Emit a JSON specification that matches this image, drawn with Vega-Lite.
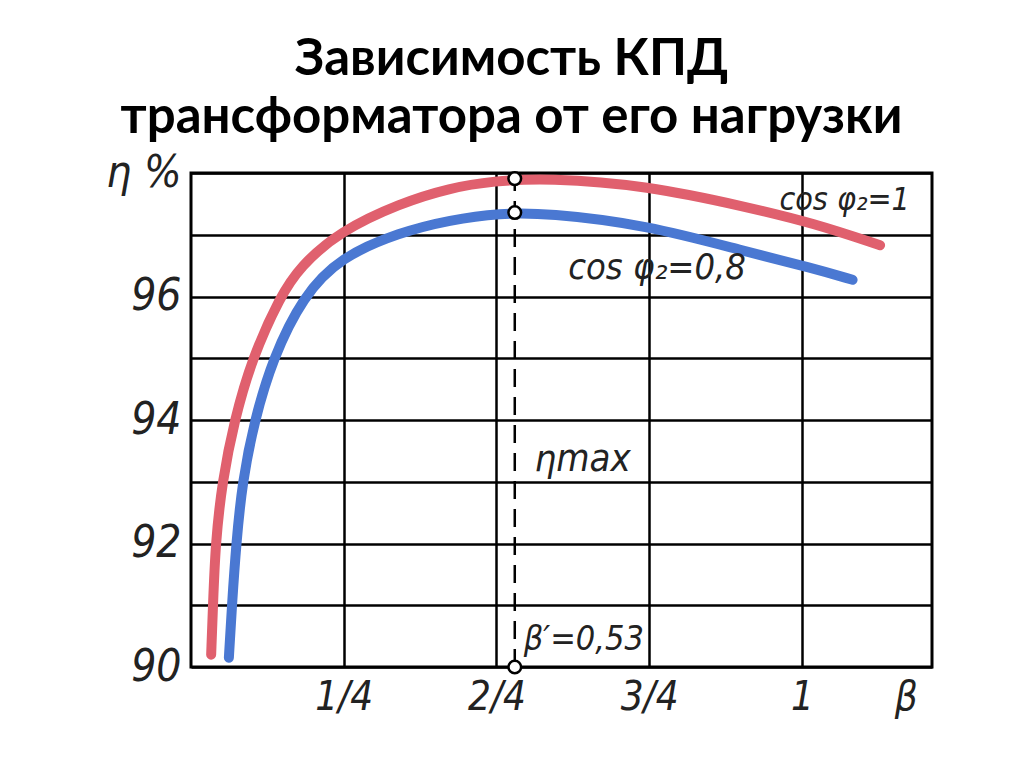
{
  "$schema": "https://vega.github.io/schema/vega-lite/v6.json",
  "width": 741,
  "height": 494,
  "autosize": {"type": "none"},
  "padding": {"left": 191, "top": 173, "right": 92, "bottom": 100},
  "background": "white",
  "title": {
    "text": ["Зависимость КПД", "трансформатора от его нагрузки"],
    "font": "Lato",
    "fontSize": 51,
    "fontWeight": "bold",
    "color": "black",
    "lineHeight": 58,
    "anchor": "middle",
    "dx": -50,
    "offset": 7
  },
  "config": {
    "view": {"stroke": "black", "strokeWidth": 3},
    "axis": {
      "labelFont": "DejaVu Sans Condensed",
      "labelFontStyle": "italic",
      "labelColor": "#222",
      "domain": false,
      "ticks": false,
      "gridColor": "black",
      "gridWidth": 2.5,
      "gridOpacity": 1,
      "title": null
    }
  },
  "datasets": {
    "curves": [
      {"series": "cos1", "beta": 0.033, "eta": 90.2},
      {"series": "cos1", "beta": 0.036, "eta": 91.0},
      {"series": "cos1", "beta": 0.040, "eta": 92.0},
      {"series": "cos1", "beta": 0.051, "eta": 93.0},
      {"series": "cos1", "beta": 0.071, "eta": 94.0},
      {"series": "cos1", "beta": 0.100, "eta": 95.0},
      {"series": "cos1", "beta": 0.146, "eta": 96.0},
      {"series": "cos1", "beta": 0.178, "eta": 96.48},
      {"series": "cos1", "beta": 0.244, "eta": 97.06},
      {"series": "cos1", "beta": 0.342, "eta": 97.51},
      {"series": "cos1", "beta": 0.424, "eta": 97.76},
      {"series": "cos1", "beta": 0.495, "eta": 97.87},
      {"series": "cos1", "beta": 0.583, "eta": 97.92},
      {"series": "cos1", "beta": 0.746, "eta": 97.8},
      {"series": "cos1", "beta": 0.910, "eta": 97.45},
      {"series": "cos1", "beta": 1.018, "eta": 97.19},
      {"series": "cos1", "beta": 1.128, "eta": 96.83},
      {"series": "cos08", "beta": 0.062, "eta": 90.15},
      {"series": "cos08", "beta": 0.067, "eta": 91.0},
      {"series": "cos08", "beta": 0.074, "eta": 92.0},
      {"series": "cos08", "beta": 0.084, "eta": 93.0},
      {"series": "cos08", "beta": 0.104, "eta": 94.0},
      {"series": "cos08", "beta": 0.134, "eta": 95.0},
      {"series": "cos08", "beta": 0.183, "eta": 96.0},
      {"series": "cos08", "beta": 0.245, "eta": 96.64},
      {"series": "cos08", "beta": 0.342, "eta": 97.04},
      {"series": "cos08", "beta": 0.424, "eta": 97.24},
      {"series": "cos08", "beta": 0.506, "eta": 97.35},
      {"series": "cos08", "beta": 0.583, "eta": 97.35},
      {"series": "cos08", "beta": 0.746, "eta": 97.16},
      {"series": "cos08", "beta": 0.910, "eta": 96.72},
      {"series": "cos08", "beta": 1.018, "eta": 96.46},
      {"series": "cos08", "beta": 1.083, "eta": 96.27}
    ],
    "marker": [{"beta": 0.53}],
    "points": [
      {"beta": 0.53, "eta": 90.0},
      {"beta": 0.53, "eta": 97.36},
      {"beta": 0.53, "eta": 97.91}
    ],
    "notes": [
      {"label": "cos φ₂=1", "beta": 1.07, "eta": 97.56, "size": 32},
      {"label": "cos φ₂=0,8", "beta": 0.763, "eta": 96.46, "size": 36},
      {"label": "ηmax", "beta": 0.641, "eta": 93.35, "size": 38},
      {"label": "β′=0,53", "beta": 0.643, "eta": 90.44, "size": 34}
    ]
  },
  "layer": [
    {
      "data": {"name": "marker"},
      "mark": {"type": "rule", "strokeDash": [18, 10], "strokeWidth": 2.5, "color": "black"},
      "encoding": {
        "x": {
          "field": "beta",
          "type": "quantitative",
          "scale": {"domain": [0, 1.213], "nice": false, "zero": false},
          "axis": {
            "values": [0.25, 0.5, 0.75, 1, 1.17],
            "labelExpr": "datum.value == 0.25 ? '1/4' : datum.value == 0.5 ? '2/4' : datum.value == 0.75 ? '3/4' : datum.value == 1 ? '1' : 'β'",
            "labelFontSize": 40,
            "labelPadding": 10,
            "gridOpacity": {"condition": {"test": "datum.value > 1.1", "value": 0}, "value": 1}
          }
        }
      }
    },
    {
      "data": {"name": "curves"},
      "mark": {"type": "line", "strokeWidth": 10, "strokeCap": "round", "interpolate": "basis"},
      "encoding": {
        "x": {"field": "beta", "type": "quantitative"},
        "y": {
          "field": "eta",
          "type": "quantitative",
          "scale": {"domain": [90, 98], "nice": false, "zero": false},
          "axis": {
            "values": [90, 91, 92, 93, 94, 95, 96, 97, 98],
            "labelExpr": "datum.value == 98 ? 'η %' : (datum.value % 2 == 0 ? format(datum.value, 'd') : '')",
            "labelFontSize": 44,
            "labelPadding": 10
          }
        },
        "color": {
          "field": "series",
          "type": "nominal",
          "scale": {"domain": ["cos1", "cos08"], "range": ["#e0606e", "#4a78d2"]},
          "legend": null
        },
        "detail": {"field": "series"}
      }
    },
    {
      "data": {"name": "points"},
      "mark": {"type": "point", "filled": true, "fill": "white", "stroke": "black", "strokeWidth": 2.5, "size": 160, "opacity": 1},
      "encoding": {
        "x": {"field": "beta", "type": "quantitative"},
        "y": {"field": "eta", "type": "quantitative"}
      }
    },
    {
      "data": {"name": "notes"},
      "mark": {"type": "text", "font": "DejaVu Sans Condensed", "fontStyle": "italic", "color": "#222", "align": "center", "baseline": "middle"},
      "encoding": {
        "x": {"field": "beta", "type": "quantitative"},
        "y": {"field": "eta", "type": "quantitative"},
        "text": {"field": "label"},
        "size": {"field": "size", "type": "quantitative", "scale": null}
      }
    }
  ]
}
